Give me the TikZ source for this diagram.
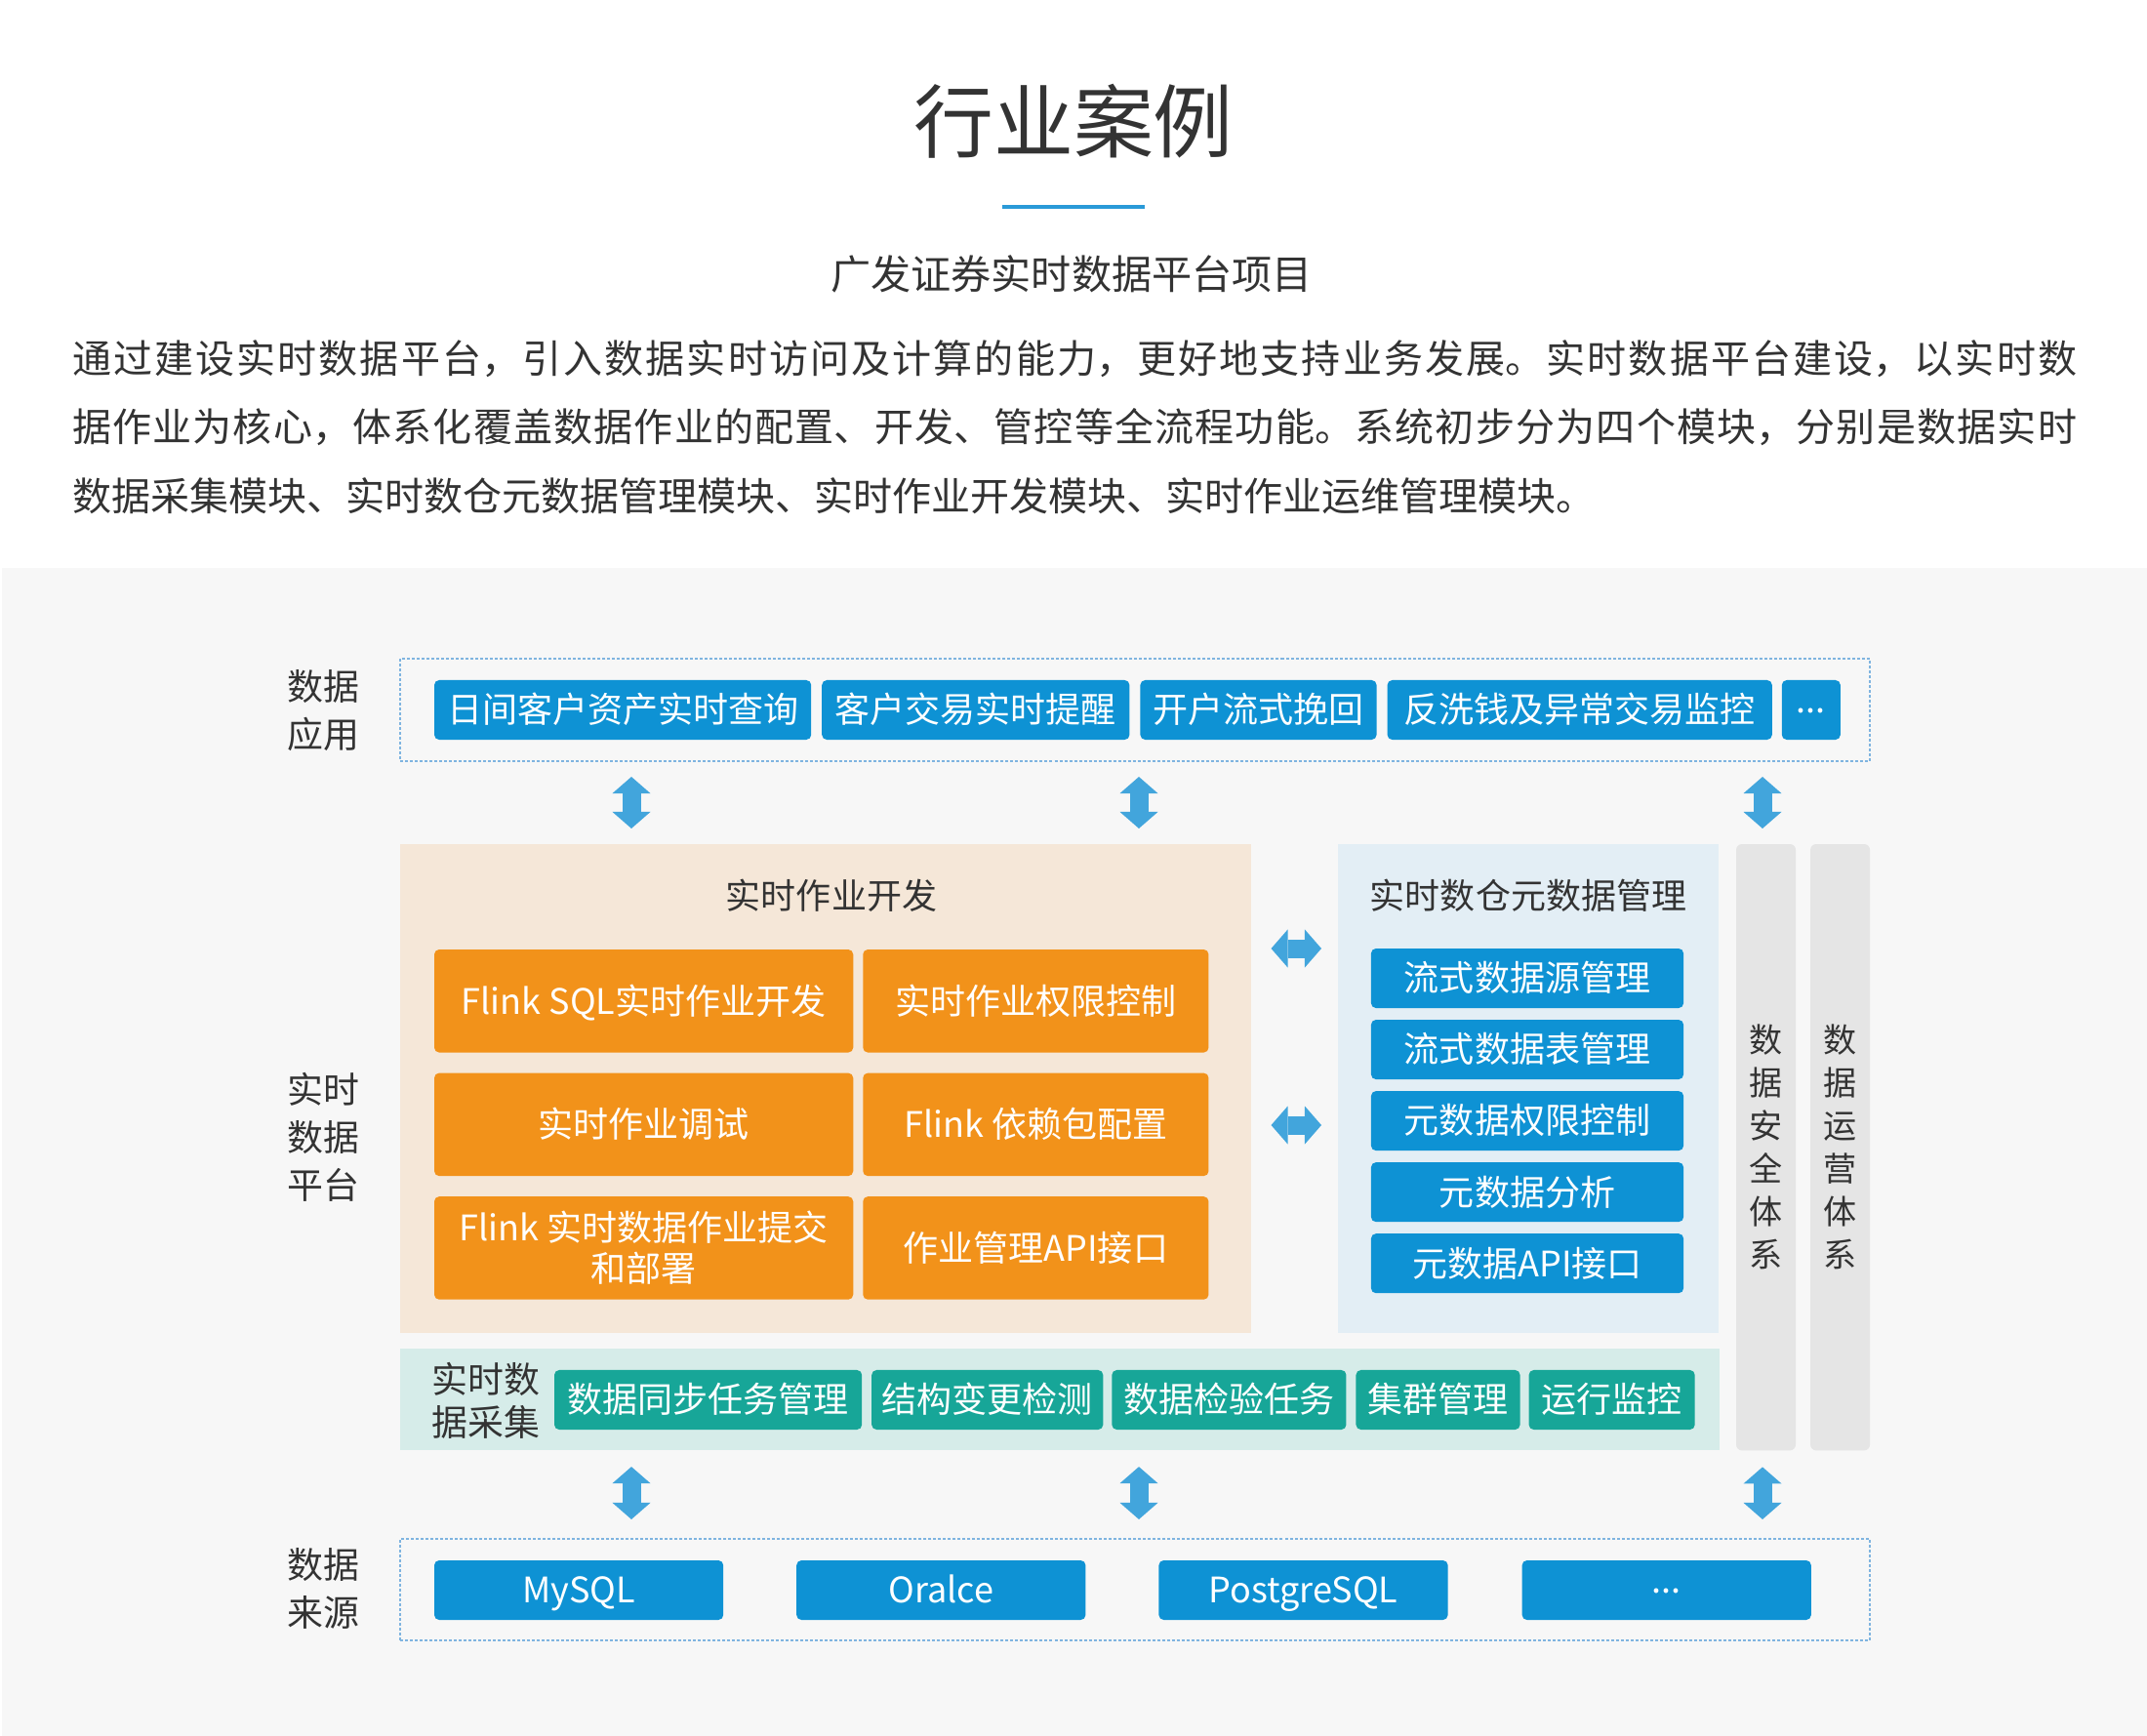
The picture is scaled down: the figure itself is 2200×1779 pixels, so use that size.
\documentclass[tikz,border=0pt]{standalone}
\usepackage{fontspec}
\setmainfont{Noto Sans CJK SC}
\usetikzlibrary{arrows.meta, positioning}
\XeTeXlinebreaklocale "zh"
\XeTeXlinebreakskip=0pt plus 3pt
\definecolor{pagegray}{HTML}{F7F7F7}
\definecolor{txtdark}{HTML}{333333}
\definecolor{appblue}{HTML}{0E92D4}
\definecolor{devorange}{HTML}{F2921A}
\definecolor{devbg}{HTML}{F5E7D8}
\definecolor{metabg}{HTML}{E3EEF5}
\definecolor{collbg}{HTML}{D6ECE9}
\definecolor{collteal}{HTML}{17A698}
\definecolor{sysgray}{HTML}{E5E5E5}
\definecolor{arrblue}{HTML}{42A5DC}
\definecolor{dashblue}{HTML}{7FB4E0}
\definecolor{lineblue}{HTML}{2A9AD8}
\newcommand\fstitle{\fontsize{23.3pt}{28pt}\selectfont}
\newcommand\fssub{\fontsize{11.7pt}{14pt}\selectfont}
\newcommand\fspara{\fontsize{11.38pt}{19.92pt}\selectfont}
\newcommand\fslbl{\fontsize{10.5pt}{13.9pt}\selectfont}
\newcommand\fscoll{\fontsize{10.5pt}{12.5pt}\selectfont}
\newcommand\fsbox{\fontsize{10.24pt}{11.95pt}\selectfont}
\newcommand\fscol{\fontsize{9.7pt}{12.5pt}\selectfont}
\newcommand\moredots{\raisebox{0.3em}{...}}
\tikzstyle{fatarr} = [draw=arrblue, line width=0.19cm,
        {Triangle[width=0.39cm, length=0.17cm, line width=0pt]}-{Triangle[width=0.39cm, length=0.17cm, line width=0pt]}]

\begin{document}
\begin{tikzpicture}[
        x=0.01cm, y=-0.01cm,
        every node/.style={inner sep=0pt, outer sep=0pt, text=txtdark, font=\fsbox},
        btn/.style={rectangle, rounded corners=0.05cm, fill=appblue,
            text=white, minimum height=0.61cm, text centered,
            text height=0.88em, text depth=0.12em},
        devbtn/.style={btn, fill=devorange, minimum height=1.055cm,
            align=center},
        collbtn/.style={btn, fill=collteal},
        panel/.style={rectangle, anchor=north west},
        dashbox/.style={rectangle, draw=dashblue, line width=0.015cm,
            dash pattern=on 0.03cm off 0.02cm},
        syscol/.style={rectangle, rounded corners=0.06cm, fill=sysgray,
            minimum width=0.61cm, minimum height=6.21cm, align=center,
            font=\fscol},
        lbl/.style={align=center, font=\fslbl}
    ]
    \useasboundingbox (0,0) rectangle (2200,1779);
    \fill[white] (0,0) rectangle (2200,1779);
    \fill[pagegray] (2,582) rectangle (2200,1779);
    % heading
    \node (title) [font=\fstitle] at (1100,124) {行业案例};
    \draw [lineblue, line width=0.03cm] (1027,212) -- (1173,212);
    \node (sub) [font=\fssub] at (1098,281) {广发证券实时数据平台项目};
    \node (intro) [anchor=north west, text width=20.53cm, align=justify,
        font=\fspara] at (74,349)
        {通过建设实时数据平台，引入数据实时访问及计算的能力，更好地支持业务发展。实时数据平台建设，以实时数\linebreak
         据作业为核心，体系化覆盖数据作业的配置、开发、管控等全流程功能。系统初步分为四个模块，分别是数据实时\linebreak
         数据采集模块、实时数仓元数据管理模块、实时作业开发模块、实时作业运维管理模块。};
    % layer labels
    \node (lapp)  [lbl] at (331,728)  {数据\\应用};
    \node (lplat) [lbl] at (331,1165) {实时\\数据\\平台};
    \node (lsrc)  [lbl] at (331,1628) {数据\\来源};
    % data applications
    \node (apps) [dashbox, minimum width=15.05cm, minimum height=1.05cm] at (1163,727.5) {};
    \node (app1) [btn, minimum width=3.86cm, anchor=west] at (445,727.5) {日间客户资产实时查询};
    \node (app2) [btn, minimum width=3.15cm, right=0.11cm of app1] {客户交易实时提醒};
    \node (app3) [btn, minimum width=2.42cm, right=0.11cm of app2] {开户流式挽回};
    \node (app4) [btn, minimum width=3.94cm, right=0.11cm of app3] {反洗钱及异常交易监控};
    \node (app5) [btn, minimum width=0.60cm, right=0.10cm of app4] {\moredots};
    % realtime job development
    \node (dev) [panel, fill=devbg, minimum width=8.71cm, minimum height=5.01cm] at (410,865) {};
    \node (devt) at (852,918) {实时作业开发};
    \node (dev1) [devbtn, minimum width=4.29cm, anchor=north west] at (445,973) {Flink SQL实时作业开发};
    \node (dev2) [devbtn, minimum width=3.54cm, right=0.10cm of dev1] {实时作业权限控制};
    \node (dev3) [devbtn, minimum width=4.29cm, below=0.21cm of dev1] {实时作业调试};
    \node (dev4) [devbtn, minimum width=3.54cm, right=0.10cm of dev3] {Flink 依赖包配置};
    \node (dev5) [devbtn, minimum width=4.29cm, below=0.21cm of dev3,
        text height=, text depth=] {Flink 实时数据作业提交\\和部署};
    \node (dev6) [devbtn, minimum width=3.54cm, right=0.10cm of dev5] {作业管理API接口};
    % realtime metadata
    \node (meta) [panel, fill=metabg, minimum width=3.90cm, minimum height=5.01cm] at (1371,865) {};
    \node (metat) at (1566,918) {实时数仓元数据管理};
    \node (meta1) [btn, minimum width=3.20cm, anchor=north] at (1565,972) {流式数据源管理};
    \node (meta2) [btn, minimum width=3.20cm, below=0.12cm of meta1] {流式数据表管理};
    \node (meta3) [btn, minimum width=3.20cm, below=0.12cm of meta2] {元数据权限控制};
    \node (meta4) [btn, minimum width=3.20cm, below=0.12cm of meta3] {元数据分析};
    \node (meta5) [btn, minimum width=3.20cm, below=0.12cm of meta4] {元数据API接口};
    % security / operations
    \node (sec) [syscol, anchor=north west] at (1779,865) {数\\据\\安\\全\\体\\系};
    \node (ops) [syscol, right=0.15cm of sec] {数\\据\\运\\营\\体\\系};
    % realtime collection
    \node (coll) [panel, fill=collbg, minimum width=13.51cm, minimum height=1.04cm] at (410,1382) {};
    \node (lcoll) [lbl, font=\fscoll] at (498,1435) {实时数\\据采集};
    \node (coll1) [collbtn, minimum width=3.15cm, anchor=west] at (568,1434.5) {数据同步任务管理};
    \node (coll2) [collbtn, minimum width=2.37cm, right=0.10cm of coll1] {结构变更检测};
    \node (coll3) [collbtn, minimum width=2.40cm, right=0.09cm of coll2] {数据检验任务};
    \node (coll4) [collbtn, minimum width=1.68cm, right=0.10cm of coll3] {集群管理};
    \node (coll5) [collbtn, minimum width=1.70cm, right=0.09cm of coll4] {运行监控};
    % data sources
    \node (src) [dashbox, minimum width=15.05cm, minimum height=1.04cm] at (1163,1629) {};
    \node (src1) [btn, minimum width=2.96cm, anchor=west] at (445,1629.5) {MySQL};
    \node (src2) [btn, minimum width=2.96cm, right=0.75cm of src1] {Oralce};
    \node (src3) [btn, minimum width=2.96cm, right=0.75cm of src2] {PostgreSQL};
    \node (src4) [btn, minimum width=2.96cm, right=0.76cm of src3] {\moredots};
    % double arrows
    \coordinate (ax1) at (647,0);
    \coordinate (ax2) at (1167,0);
    \coordinate (ax3) at (1806,0);
    \coordinate (ay1) at (0,972);
    \coordinate (ay2) at (0,1153);
    \draw [fatarr, shorten <=0.16cm, shorten >=0.16cm] (apps.south -| ax1) -- (dev.north -| ax1);
    \draw [fatarr, shorten <=0.16cm, shorten >=0.16cm] (apps.south -| ax2) -- (dev.north -| ax2);
    \draw [fatarr, shorten <=0.16cm, shorten >=0.16cm] (apps.south -| ax3) -- (sec.north -| ax3);
    \draw [fatarr, shorten <=0.21cm, shorten >=0.17cm] (dev.east |- ay1) -- (meta.west |- ay1);
    \draw [fatarr, shorten <=0.21cm, shorten >=0.17cm] (dev.east |- ay2) -- (meta.west |- ay2);
    \draw [fatarr, shorten <=0.17cm, shorten >=0.20cm] (coll.south -| ax1) -- (src.north -| ax1);
    \draw [fatarr, shorten <=0.17cm, shorten >=0.20cm] (coll.south -| ax2) -- (src.north -| ax2);
    \draw [fatarr, shorten <=0.17cm, shorten >=0.20cm] (sec.south -| ax3) -- (src.north -| ax3);
\end{tikzpicture}
\end{document}
